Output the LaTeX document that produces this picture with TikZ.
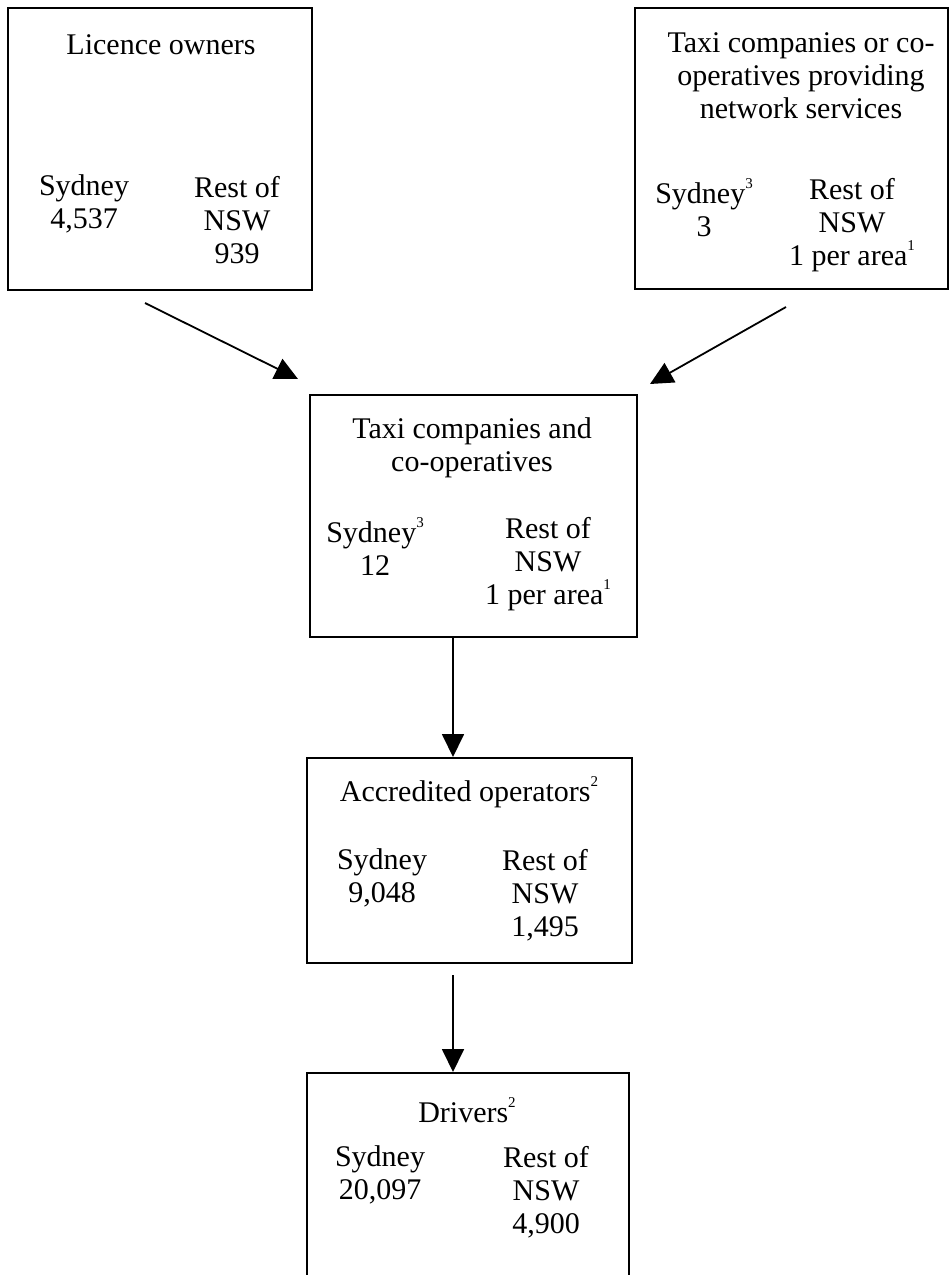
\documentclass[tikz,border=0pt]{standalone}
\usepackage{fontspec}
\setmainfont{Liberation Serif}
\usetikzlibrary{arrows.meta}
\newcommand{\sups}[1]{\raisebox{0.5em}{\fontsize{15}{15}\selectfont #1}}
\begin{document}
\begin{tikzpicture}[x=1pt,y=-1pt,
  box/.style={draw,line width=1.4pt,rectangle,inner sep=0pt},
  txt/.style={align=center,inner sep=0pt,font=\fontsize{30}{33}\selectfont},
  conn/.style={line width=1.8pt,-{Triangle[length=23pt,width=22pt]}}]
\useasboundingbox (0,0) rectangle (949,1275);
\begin{scope}
\clip (0,0) rectangle (949,1275);
% boxes
\node[box,minimum width=304pt,minimum height=282pt] (b1) at (160,149) {};
\node[box,minimum width=313pt,minimum height=281pt] (b2) at (791.5,148.5) {};
\node[box,minimum width=327pt,minimum height=242pt] (b3) at (473.5,516) {};
\node[box,minimum width=325pt,minimum height=205pt] (b4) at (469.5,860.5) {};
\node[box,minimum width=322pt,minimum height=230pt] (b5) at (468,1188) {};
\end{scope}
% texts
\node[txt] (t1) at (161,45) {Licence owners};
\node[txt] (s1) at (84,204) {Sydney\\4,537};
\node[txt] (r1) at (237,220) {Rest of\\NSW\\939};

\node[txt] (t2) at (801,76) {Taxi companies or co-\\operatives providing\\network services};
\node[txt] (s2) at (704,208) {Sydney\sups{3}\\3};
\node[txt] (r2) at (852,225) {Rest of\\NSW\\1 per area\sups{1}};

\node[txt] (t3) at (472,448) {Taxi companies and\\co-operatives};
\node[txt] (s3) at (375,547) {Sydney\sups{3}\\12};
\node[txt] (r3) at (548,564) {Rest of\\NSW\\1 per area\sups{1}};

\node[txt] (t4) at (469,792) {Accredited operators\sups{2}};
\node[txt] (s4) at (382,878) {Sydney\\9,048};
\node[txt] (r4) at (545,895) {Rest of\\NSW\\1,495};

\node[txt] (t5) at (467,1110) {Drivers\sups{2}};
\node[txt] (s5) at (380,1175) {Sydney\\20,097};
\node[txt] (r5) at (546,1192) {Rest of\\NSW\\4,900};

% connectors
\coordinate (a1s) at (145,303);
\coordinate (a1e) at (298,379);
\coordinate (a2s) at (786,307);
\coordinate (a2e) at (650,384);
\coordinate (a3s) at (453,637);
\coordinate (a3e) at (453,757);
\coordinate (a4s) at (453,975);
\coordinate (a4e) at (453,1072);
\draw[conn] (a1s) -- (a1e);
\draw[conn] (a2s) -- (a2e);
\draw[conn] (a3s) -- (a3e);
\draw[conn] (a4s) -- (a4e);
\end{tikzpicture}
\end{document}
